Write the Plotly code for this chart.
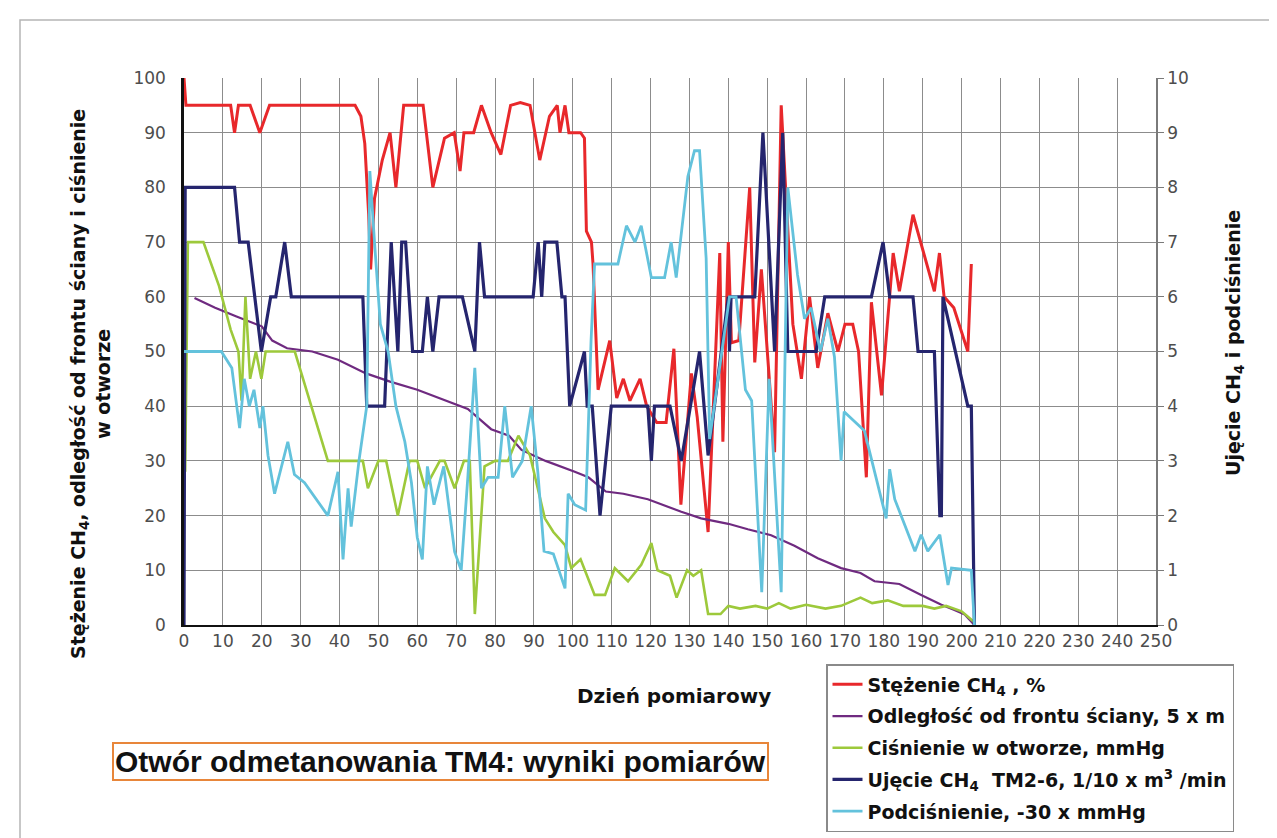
import plotly.graph_objects as go

# ---------------- data ----------------
red_day = [0, 0.5, 12, 13, 14, 17, 19.5, 22, 44, 45.5, 46.5, 47.5, 48, 49, 51, 53, 54.5, 56.5, 61.5, 64,
           67, 69.5, 71, 72, 74.5, 76.5, 79, 81.5, 84, 86.5, 89, 91.5, 94, 96, 96.7, 98, 99, 102, 103,
           103.5, 104.8, 105.2, 106.5, 109.5, 111.3, 113, 114.7, 117.3, 119, 121.6, 124, 126, 127.8,
           130.5, 132, 134.8, 137.8, 138.6, 140, 140.8, 142.7, 145.5, 146.8, 148.5, 151.9, 153.6, 156.6,
           158.8, 160.9, 163, 165.6, 168.2, 170, 172, 173.5, 175.5, 176.8, 179.4, 182.4, 184, 187.5, 193,
           194.3, 195.5, 198, 201.6, 202.5]
red_val = [100, 95, 95, 90, 95, 95, 90, 95, 95, 93, 88, 75, 65, 78, 85, 90, 80, 95, 95, 80,
           89, 90, 83, 90, 90, 95, 90, 86, 95, 95.5, 95, 85, 93, 95, 90, 95, 90, 90, 89,
           72, 70, 66, 43, 52, 41.5, 45, 41, 45, 40, 37, 37, 50.5, 22,
           46, 38, 17, 68, 33.5, 70, 51.6, 52, 80, 48, 65, 31.6, 95, 55,
           45, 60, 47, 57, 50, 55, 55, 50, 27, 59, 42, 68, 61, 75, 61,
           68, 60, 58, 50, 66]

pur_day = [2.7, 8, 13.5, 20, 22.7, 26.5, 33, 39.6, 46.8, 53, 60, 65.4, 73, 79, 83.6, 86.8, 93, 100.5,
           104, 108.5, 113, 119.3, 127.9, 133, 140, 145, 151, 157, 163, 169, 174, 177.6, 184, 189.6,
           194.8, 198, 200.8, 203.3]
pur_val = [59.8, 58, 56.4, 54.6, 52, 50.6, 50, 48.5, 46, 44.5, 43, 41.5, 39.5, 35.8, 34.6, 32, 30, 28,
           27, 24.4, 24, 23, 20.7, 19.5, 18.5, 17.5, 16.4, 14.5, 12.2, 10.4, 9.5, 8, 7.5, 5.5,
           3.7, 2.8, 1.9, 0]

grn_day = [0.3, 1, 5, 9, 12, 14, 14.8, 15.8, 17, 18.5, 19.9, 21, 23, 28.5, 37, 46, 47.3, 50, 52, 55,
           58, 60, 62, 65.8, 67, 69.6, 72, 73.5, 74.8, 77.3, 80, 83.3, 86, 89, 92.8, 95, 98, 99.6,
           102, 105.6, 108.3, 110.8, 114.2, 117.6, 120.2, 121.8, 125, 126.7, 129.4, 131, 133, 134.8,
           138, 140, 143, 147, 150, 153, 156, 160, 165, 169, 174, 177, 181, 185, 190, 193, 196, 200,
           203.3]
grn_val = [28, 70, 70, 62, 54, 50, 41, 60, 45, 50, 45, 50, 50, 50, 30, 30, 25, 30, 30, 20,
           30, 30, 25, 30, 30, 25, 30, 30, 2, 29, 30, 30, 34.6, 31, 19.5, 17, 14.6, 10.4,
           12, 5.5, 5.5, 10.4, 8, 11, 15, 10, 9, 5, 10, 9, 10, 2,
           2, 3.5, 3, 3.5, 3, 4, 3, 3.7, 3, 3.5, 5, 4, 4.5, 3.5, 3.5, 3, 3.5, 2.5,
           0.5]

nav_day = [0, 0.3, 13, 14.3, 16.5, 19.9, 22.3, 23.6, 25.9, 27.6, 46, 47, 51.6, 53.3, 55, 56, 57, 58.8,
           61.3, 62.6, 64, 65.6, 71.6, 74.8, 76, 77.3, 89.8, 91.1, 92, 92.8, 95.9, 97.2, 98, 99.2,
           103, 103.7, 105, 107, 109.9, 119.3, 120.2, 121, 125, 127.9, 132.6, 134.8, 140, 140.3,
           140.7, 146.8, 148.9, 151.9, 154, 155.3, 162.6, 164.8, 165.6, 176.8, 179.8, 181.5, 187.5,
           188.8, 193, 194.4, 194.8, 195.2, 201.6, 202.5, 203.3]
nav_val = [0, 8, 8, 7, 7, 5, 6, 6, 7, 6, 6, 4, 4, 7, 5, 7, 7, 5,
           5, 6, 5, 6, 6, 5, 7, 6, 6, 7, 6, 7, 7, 6, 6, 4,
           5, 4, 4, 2, 4, 4, 3, 4, 4, 3, 5, 3.1, 6, 5,
           6, 6, 9, 5, 9, 5, 5, 6, 6, 6, 7, 6, 6,
           5, 5, 2, 2, 6, 4, 4, 0]

cy_day = [0, 9.6, 12.3, 14.3, 15.5, 16.8, 18, 19.5, 20.3, 21.6, 23.3, 25, 26.7, 28.4, 31, 37, 39.6,
          40.9, 42.2, 43, 45, 47, 47.8, 49, 50.5, 52.5, 54.5, 56.8, 58.5, 60, 61.3, 62.6, 64.3, 66.8,
          69.6, 71.3, 73, 74.8, 76.5, 78.2, 80.8, 82.5, 84.5, 87, 89.3, 91, 92.6, 95, 98, 98.8, 100.5,
          103.3, 104.7, 105.6, 111.6, 113.8, 116, 117.6, 120.2, 123.6, 125.3, 126.6, 129.6, 131.3,
          132.6, 134.3, 135.2, 140.3, 142, 144.4, 146, 148.6, 150.5, 153.6, 155.3, 157.8, 159.6,
          161.3, 163.7, 165.6, 167.3, 169, 169.8, 175, 180.6, 181.5, 182.8, 188, 189.6, 191.3, 194.4,
          196.5, 197.4, 202.5, 203.3]
cy_val = [5, 5, 4.7, 3.6, 4.5, 4, 4.3, 3.6, 4, 3.1, 2.4, 2.9, 3.35, 2.75, 2.6, 2, 2.8,
          1.2, 2.5, 1.8, 3, 4, 8.3, 7, 5.5, 5, 4, 3.35, 2.6, 1.6, 1.2, 2.9, 2.2, 2.9,
          1.34, 1, 2.7, 4.7, 2.5, 2.7, 2.7, 4, 2.7, 3, 4, 2.8, 1.35, 1.3, 0.67, 2.4, 2.2,
          2.1, 5.2, 6.6, 6.6, 7.3, 7, 7.3, 6.35, 6.35, 7, 6.35, 8.2, 8.67,
          8.67, 6.7, 3.4, 6, 6, 4.3, 4.1, 0.6, 4.5, 0.6, 8, 6.4, 5.6,
          5.8, 5, 5.6, 4.9, 3, 3.9, 3.55, 1.95, 2.85, 2.3, 1.35, 1.65, 1.35, 1.65,
          0.73, 1.04, 1, 0]

series_names = [
    "Stężenie CH<sub>4</sub> , %",
    "Odległość od frontu ściany, 5 x m",
    "Ciśnienie w otworze, mmHg",
    "Ujęcie CH<sub>4</sub>  TM2-6, 1/10 x m<sup>3</sup> /min",
    "Podciśnienie, -30 x mmHg",
]
x_ticks = list(range(0, 251, 10))
y_ticks = list(range(0, 101, 10))
y2_ticks = list(range(0, 11, 1))

# ---------------- layout helpers ----------------
W, H = 1277, 838
L, R, T, B = 176, 129, 70, 221
PW = W - L - R
PH = H - T - B


def px(x):
    return (x - L) / PW


def py(y):
    return (H - B - y) / PH


FONT = "DejaVu Sans"
TICKFONT = dict(family=FONT, size=17, color="#4d4d4d")

fig = go.Figure()
styles = [
    dict(color="#e8282b", width=3),
    dict(color="#6f2a80", width=2.2),
    dict(color="#9dc93b", width=2.6),
    dict(color="#25256e", width=3.2),
    dict(color="#63c2dc", width=2.8),
]
data = [(red_day, red_val, "y"), (pur_day, pur_val, "y"), (grn_day, grn_val, "y"),
        (nav_day, nav_val, "y2"), (cy_day, cy_val, "y2")]
for i, ((xd, yd, ax), st, nm) in enumerate(zip(data, styles, series_names)):
    fig.add_trace(go.Scatter(x=xd, y=yd, mode="lines", name="<b>" + nm + "</b>",
                             line=st, yaxis=ax, legendgroup=f"g{i}"))

fig.update_layout(
    width=W, height=H, autosize=False,
    margin=dict(l=L, r=R, t=T, b=B),
    paper_bgcolor="white", plot_bgcolor="white",
    font=dict(family=FONT, color="#222"),
    xaxis=dict(range=[0, 250], tickvals=x_ticks, showgrid=True, gridcolor="#8c8c8c", gridwidth=1.3,
               showline=True, linecolor="#111", linewidth=2, zeroline=False, ticks="",
               tickfont=TICKFONT, ticklabelstandoff=0, fixedrange=True),
    yaxis=dict(range=[0, 100], tickvals=y_ticks, showgrid=True, gridcolor="#8c8c8c", gridwidth=1.3,
               showline=True, linecolor="#111", linewidth=2.5, zeroline=False, ticks="",
               tickfont=TICKFONT, ticklabelstandoff=12),
    yaxis2=dict(range=[0, 10], tickvals=y2_ticks, overlaying="y", side="right", showgrid=False,
                showline=True, linecolor="#7a7a7a", linewidth=1.5, zeroline=False, ticks="outside",
                ticklen=6, tickcolor="#7a7a7a", tickfont=TICKFONT, ticklabelstandoff=0),
    showlegend=True,
    legend=dict(x=px(818), y=py(656), xanchor="left", yanchor="top", bgcolor="white",
                bordercolor="#8a8a8a", borderwidth=1.5, tracegroupgap=4,
                font=dict(family=FONT, size=19, color="#111"), traceorder="grouped"),
)

fig.add_annotation(xref="paper", yref="paper", x=px(82), y=py(376), textangle=-90, showarrow=False,
                   xanchor="center", yanchor="middle",
                   text="<b>Stężenie CH<sub>4</sub>, odległość od frontu ściany i ciśnienie<br>w otworze</b>",
                   font=dict(family=FONT, size=19, color="#111"))
fig.add_annotation(xref="paper", yref="paper", x=px(1226), y=py(335), textangle=-90, showarrow=False,
                   xanchor="center", yanchor="middle",
                   text="<b>Ujęcie CH<sub>4</sub> i podciśnienie</b>",
                   font=dict(family=FONT, size=19, color="#111"))
fig.add_annotation(xref="paper", yref="paper", x=px(666), y=py(688), showarrow=False,
                   xanchor="center", yanchor="middle",
                   text="<b>Dzień pomiarowy</b>", font=dict(family=FONT, size=20, color="#111"))
fig.add_annotation(xref="paper", yref="paper", x=px(432), y=py(753), showarrow=False,
                   xanchor="center", yanchor="middle",
                   text="<b>Otwór odmetanowania TM4: wyniki pomiarów</b>",
                   font=dict(family="Liberation Sans", size=30, color="#111"),
                   bordercolor="#e8863a", borderwidth=2, borderpad=1, bgcolor="white")
# outer frame (left and top edges visible)
fig.add_shape(type="rect", xref="paper", yref="paper", x0=px(12), x1=px(1300), y0=py(860), y1=py(12),
              line=dict(color="#b5b5b5", width=1.5), layer="below")

fig.write_html("out.html")
